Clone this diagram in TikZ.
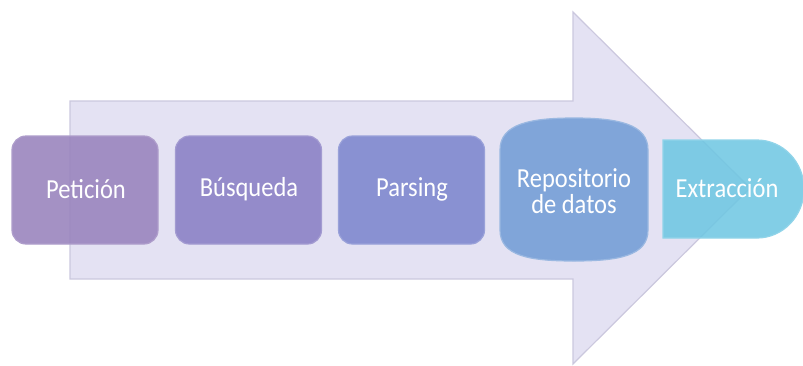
\documentclass[tikz,border=0pt]{standalone}
\usepackage{fontspec}
\setmainfont{Carlito}
\definecolor{arrowfill}{HTML}{E4E2F3}
\definecolor{arrowline}{HTML}{CBC8DE}
\definecolor{cpet}{HTML}{9A85BE}
\definecolor{cbus}{HTML}{8C82C6}
\definecolor{cpar}{HTML}{8089CF}
\definecolor{crep}{HTML}{78A0D7}
\definecolor{cext}{HTML}{6CC6E2}
\tikzset{
  stagebox/.style={rounded corners=14pt, fill opacity=0.9, text opacity=1,
    minimum width=146pt, minimum height=108pt, inner sep=0pt, line width=1.2pt},
  stagetext/.style={text=white, font=\fontsize{25}{24}\selectfont, align=center,
    xscale=0.98, yscale=1.1, transform shape},
}
\begin{document}
\begin{tikzpicture}[x=1pt,y=-1pt]
\useasboundingbox (0,0) rectangle (803,365);
% big arrow
\draw[fill=arrowfill, draw=arrowline, line width=1.2pt, line join=miter]
  (70,101) -- (573,101) -- (573,12) -- (750,188) -- (573,364) -- (573,279) -- (70,279) -- cycle;
% stages
\node[stagebox, fill=cpet, draw=cpet!80!white] (pet) at (85,190) {};
\node[stagebox, fill=cbus, draw=cbus!80!white] (bus) at (248.5,190) {};
\node[stagebox, fill=cpar, draw=cpar!80!white] (par) at (411.5,190) {};
\draw[fill=crep, draw=crep!75!white, line width=1.2pt, fill opacity=0.92]
  (500,150) .. controls (500,124) and (530,118) .. (574,118)
  .. controls (618,118) and (648,124) .. (648,150)
  -- (648,230) .. controls (648,256) and (618,261) .. (574,261)
  .. controls (530,261) and (500,256) .. (500,230) -- cycle;
\draw[fill=cext, draw=cext!75!white, line width=1.2pt, fill opacity=0.85]
  (663,140) -- (757,140) arc[start angle=90, end angle=-90, x radius=47, y radius=-49]
  -- (663,238) -- cycle;
\node[stagetext] (tpet) at (86,189) {Petición};
\node[stagetext] (tbus) at (249,189) {Búsqueda};
\node[stagetext] (tpar) at (412,189) {Parsing};
\node[stagetext] (trep) at (574,191) {Repositorio\\de datos};
\node[stagetext] (text) at (727,188) {Extracción};
\end{tikzpicture}
\end{document}
